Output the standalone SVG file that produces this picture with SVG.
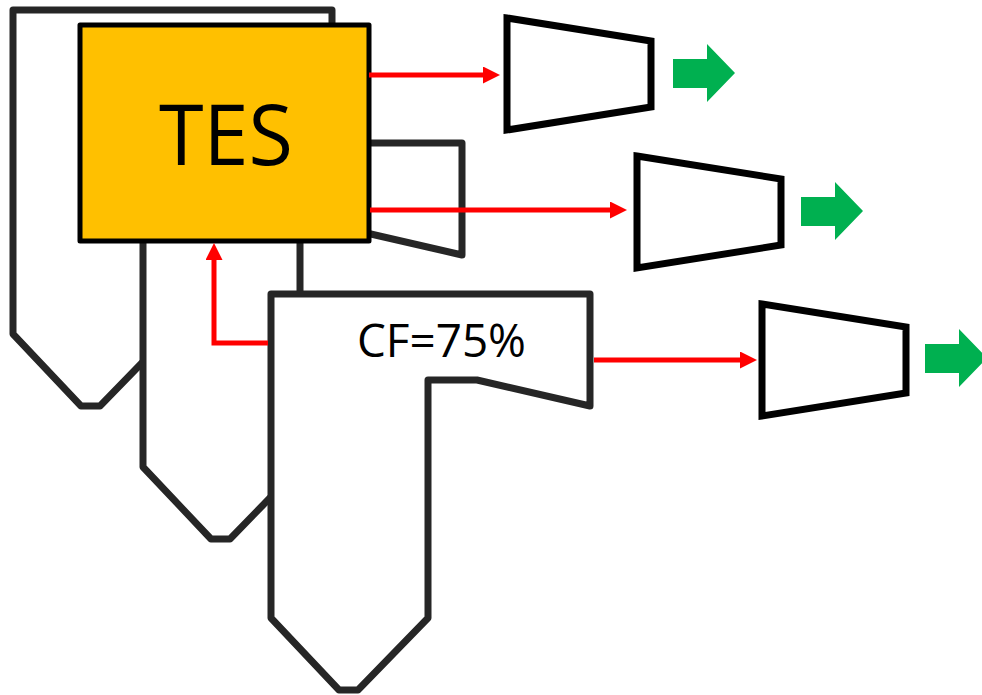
<svg xmlns="http://www.w3.org/2000/svg" width="982" height="695" viewBox="0 0 982 695">
  <style>
    .boiler { fill: #ffffff; stroke: #262626; stroke-width: 7; stroke-linejoin: round; }
    .tes { fill: #FFC000; stroke: #000000; stroke-width: 5; stroke-linejoin: round; }
    .turbine { fill: #ffffff; stroke: #000000; stroke-width: 7; stroke-linejoin: miter; }
    .flow { fill: none; stroke: #FF0000; stroke-width: 5; }
    .power { fill: #00B050; }
    .label { font-family: "Open Sans", "Noto Sans", "Liberation Sans", sans-serif; fill: #000000; }
  </style>
  <defs>
    <!-- boiler outline: furnace with flue gas pass on the right -->
    <path id="boilerShape" d="M271,294 H590 V406 L477,380 H428 V618 L358,690 H339 L271,618 Z"/>
    <!-- turbine trapezoid -->
    <path id="turbineShape" d="M507,18 L651,41 V107 L507,130 Z"/>
    <!-- block output arrow -->
    <path id="powerArrow" d="M673,59 H707 V44 L735,73 L707,102 V88 H673 Z"/>
    <marker id="redHead" viewBox="0 0 17 17" markerWidth="17" markerHeight="17" refX="7" refY="8.5" orient="auto" markerUnits="userSpaceOnUse">
      <path d="M0,0 L17,8.5 L0,17 Z" fill="#FF0000"/>
    </marker>
  </defs>

  <!-- boilers, back to front -->
  <g id="boiler-1">
    <use href="#boilerShape" class="boiler" transform="translate(-258,-284)"/>
  </g>
  <g id="boiler-2">
    <use href="#boilerShape" class="boiler" transform="translate(-128,-151)"/>
  </g>
  <g id="boiler-3">
    <use href="#boilerShape" class="boiler"/>
    <text class="label" x="357" y="357" font-size="46" textLength="169" lengthAdjust="spacingAndGlyphs">CF=75%</text>
  </g>

  <!-- thermal energy storage -->
  <g id="tes">
    <rect class="tes" x="80" y="25" width="289" height="216"/>
    <text class="label" x="226" y="165" font-size="84" text-anchor="middle" textLength="134" lengthAdjust="spacingAndGlyphs">TES</text>
  </g>

  <!-- heat flows -->
  <g id="connectors">
    <line class="flow" x1="369" y1="75" x2="490" y2="75" marker-end="url(#redHead)"/>
    <line class="flow" x1="370" y1="210" x2="617" y2="210" marker-end="url(#redHead)"/>
    <line class="flow" x1="594" y1="360" x2="747" y2="360" marker-end="url(#redHead)"/>
    <polyline class="flow" points="268,343 214,343 214,253" marker-end="url(#redHead)"/>
  </g>

  <!-- turbines -->
  <g id="turbine-1">
    <use href="#turbineShape" class="turbine"/>
  </g>
  <g id="turbine-2">
    <use href="#turbineShape" class="turbine" transform="translate(130,138)"/>
  </g>
  <g id="turbine-3">
    <use href="#turbineShape" class="turbine" transform="translate(255,286)"/>
  </g>

  <!-- electrical output -->
  <g id="output-1">
    <use href="#powerArrow" class="power"/>
  </g>
  <g id="output-2">
    <use href="#powerArrow" class="power" transform="translate(128,138)"/>
  </g>
  <g id="output-3">
    <use href="#powerArrow" class="power" transform="translate(252,285)"/>
  </g>
</svg>
